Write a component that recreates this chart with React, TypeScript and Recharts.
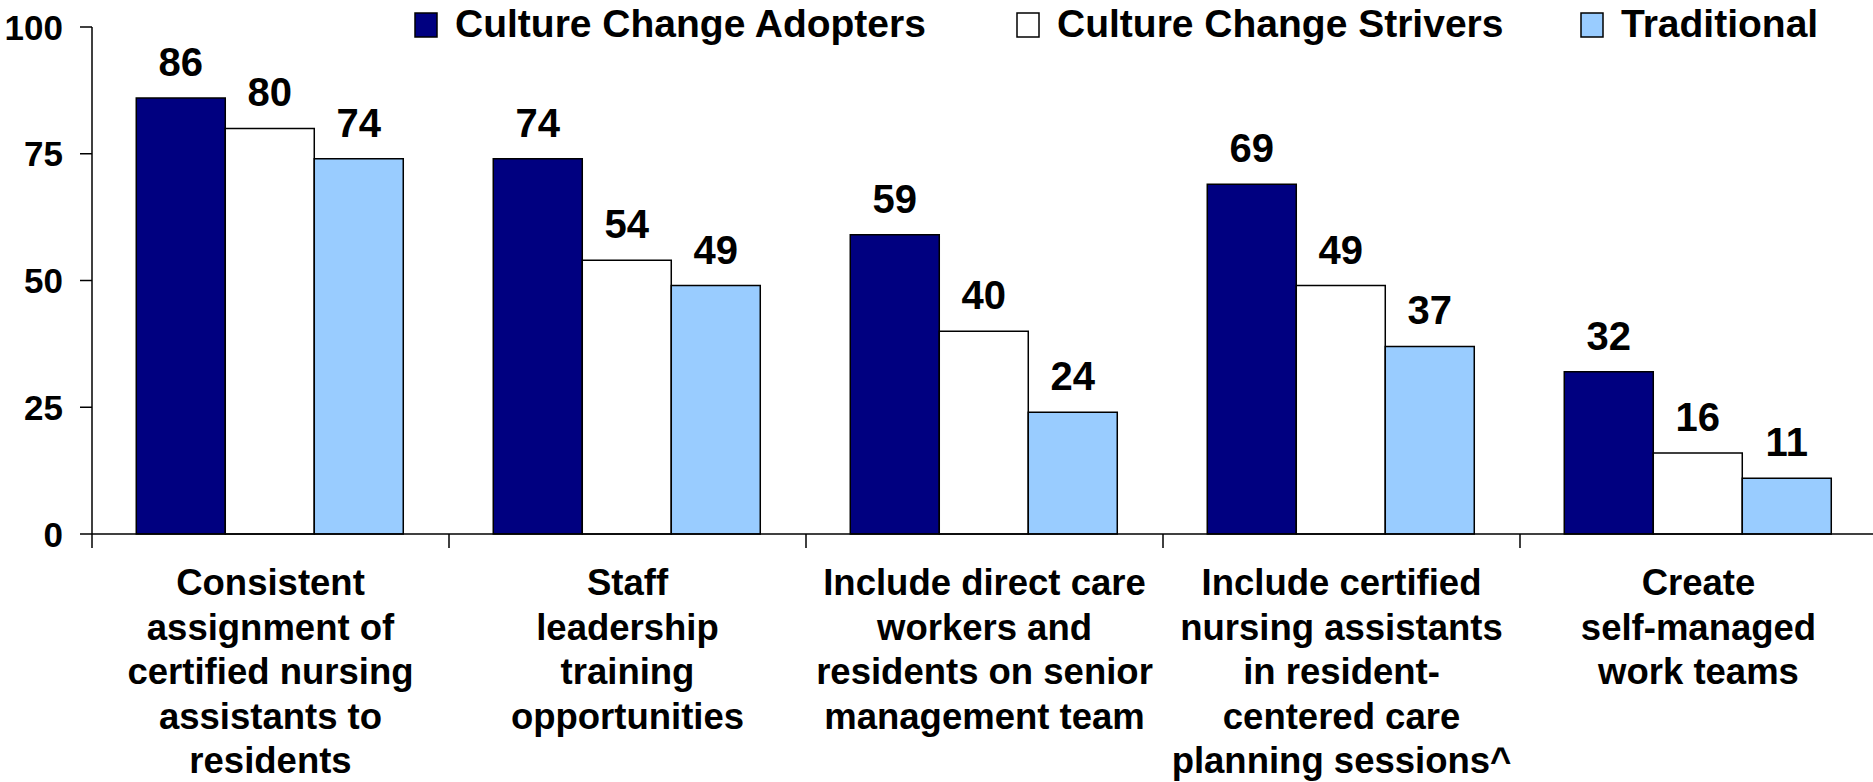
import React from 'react';
import { BarChart, Bar, XAxis, YAxis, Legend, LabelList } from 'recharts';

const categories = [
  'Consistent\nassignment of\ncertified nursing\nassistants to\nresidents',
  'Staff\nleadership\ntraining\nopportunities',
  'Include direct care\nworkers and\nresidents on senior\nmanagement team',
  'Include certified\nnursing assistants\nin resident-\ncentered care\nplanning sessions^',
  'Create\nself-managed\nwork teams',
];
const adopters = [86, 74, 59, 69, 32];
const strivers = [80, 54, 40, 49, 16];
const traditional = [74, 49, 24, 37, 11];
const yTicks = [0, 25, 50, 75, 100];
const seriesNames = ['Culture Change Adopters', 'Culture Change Strivers', 'Traditional'];
const seriesColors = ['#000080', '#FFFFFF', '#99CCFF'];

const data = categories.map((c, i) => ({
  name: c,
  adopters: adopters[i],
  strivers: strivers[i],
  traditional: traditional[i],
}));

const FONT = '"Liberation Sans", Arial, Helvetica, sans-serif';

function XTick(props: any) {
  const { x, y, payload } = props;
  const lines = String(payload.value).split('\n');
  const off = payload.offset ?? 0;
  return (
    <g>
      <line x1={x - off} x2={x - off} y1={y} y2={y + 14} stroke="#000" strokeWidth={1.5} />
      <text textAnchor="middle" fontFamily={FONT} fontWeight="bold" fontSize={36.5} fill="#000">
        {lines.map((l, i) => (
          <tspan key={i} x={x} y={y + 61 + i * 44.5}>{l}</tspan>
        ))}
      </text>
    </g>
  );
}

function YTick(props: any) {
  const { x, y, payload } = props;
  return (
    <text x={x} y={y + 12.5} textAnchor="end" fontFamily={FONT} fontWeight="bold" fontSize={35} fill="#000">
      {payload.value}
    </text>
  );
}

function ValueLabel(props: any) {
  const { x, y, width, value } = props;
  const cx = Number(x) + Number(width) / 2;
  return (
    <text x={cx} y={Number(y) - 22} textAnchor="middle" fontFamily={FONT} fontWeight="bold" fontSize={40} fill="#000">
      {value}
    </text>
  );
}

const LEGEND_X = [415, 1017, 1581];

function LegendContent() {
  return (
    <svg width={1873} height={50} style={{ display: 'block' }}>
      {seriesNames.map((n, i) => (
        <g key={n}>
          <rect x={LEGEND_X[i]} y={13} width={22} height={24} fill={seriesColors[i]} stroke="#000" strokeWidth={1.5} />
          <text x={LEGEND_X[i] + 40} y={37} fontFamily={FONT} fontWeight="bold" fontSize={39} fill="#000">
            {n}
          </text>
        </g>
      ))}
    </svg>
  );
}

export default function App() {
  return (
    <div style={{ position: 'absolute', left: 0, top: 0, width: 1873, height: 782, overflow: 'hidden', background: '#fff' }}>
      <BarChart
        width={1873}
        height={782}
        data={data}
        margin={{ top: 27, right: -4, bottom: 0, left: 0 }}
        barCategoryGap="12.4%"
        barGap={0}
      >
        <XAxis
          dataKey="name"
          height={248}
          interval={0}
          tickLine={false}
          tickSize={0}
          tickMargin={0}
          axisLine={{ stroke: '#000', strokeWidth: 1.5 }}
          tick={<XTick />}
        />
        <YAxis
          width={92}
          domain={[0, 100]}
          ticks={yTicks}
          interval={0}
          tickSize={12}
          tickMargin={17}
          tickLine={{ stroke: '#000', strokeWidth: 1.5 }}
          axisLine={{ stroke: '#000', strokeWidth: 1.5 }}
          tick={<YTick />}
        />
        <Legend
          layout="horizontal"
          verticalAlign="middle"
          align="center"
          wrapperStyle={{ position: 'absolute', top: 0, left: 0, width: 1873, height: 50 }}
          content={<LegendContent />}
        />
        <Bar dataKey="adopters" name={seriesNames[0]} fill={seriesColors[0]} stroke="#000" strokeWidth={1.5} isAnimationActive={false}>
          <LabelList dataKey="adopters" content={<ValueLabel />} />
        </Bar>
        <Bar dataKey="strivers" name={seriesNames[1]} fill={seriesColors[1]} stroke="#000" strokeWidth={1.5} isAnimationActive={false}>
          <LabelList dataKey="strivers" content={<ValueLabel />} />
        </Bar>
        <Bar dataKey="traditional" name={seriesNames[2]} fill={seriesColors[2]} stroke="#000" strokeWidth={1.5} isAnimationActive={false}>
          <LabelList dataKey="traditional" content={<ValueLabel />} />
        </Bar>
      </BarChart>
    </div>
  );
}
